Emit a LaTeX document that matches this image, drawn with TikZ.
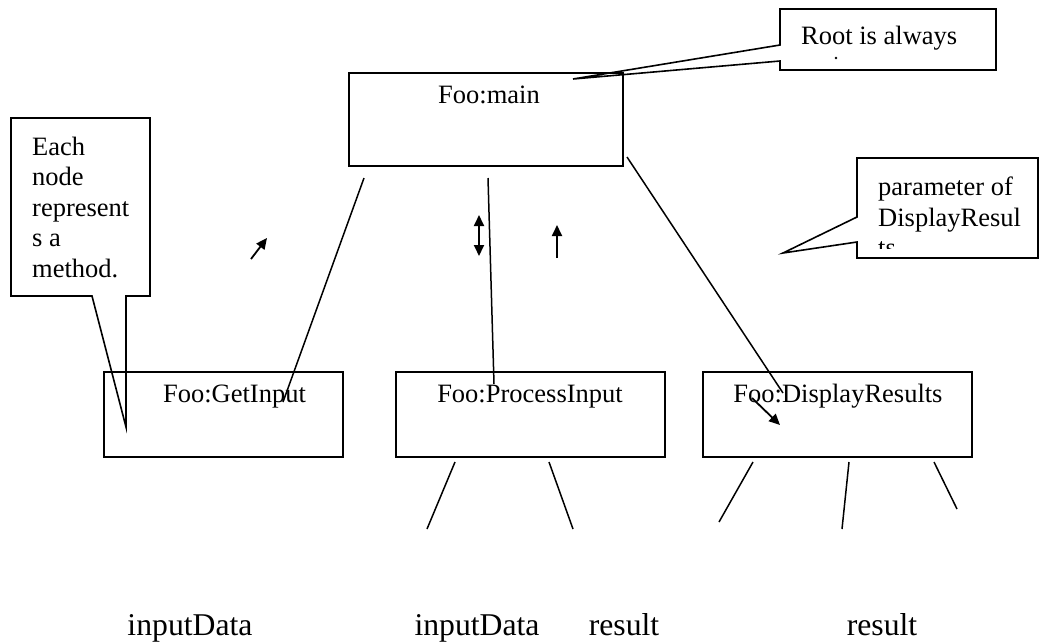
\documentclass[tikz,border=0pt]{standalone}
\usepackage{fontspec}
\setmainfont{Liberation Serif}
\usetikzlibrary{arrows.meta}
\begin{document}
\begin{tikzpicture}[x=1pt,y=-1pt,
  boxst/.style={draw,line width=1.6pt,rectangle,inner sep=0pt},
  txt/.style={inner sep=0pt,anchor=base,font=\fontsize{26.5}{30.5}\selectfont},
  ltxt/.style={inner sep=0pt,anchor=base west,font=\fontsize{26.5}{30.5}\selectfont},
  big/.style={inner sep=0pt,anchor=base,font=\fontsize{31.7}{36}\selectfont},
  ln/.style={line width=1.5pt},
  arr/.style={line width=1.8pt,-{Triangle[length=11pt,width=10pt]}},
  darr/.style={line width=1.8pt,{Triangle[length=11pt,width=10pt]}-{Triangle[length=11pt,width=10pt]}},
  callout/.style={draw,line width=1.6pt,line join=miter}]
\useasboundingbox (0,0) rectangle (1041,641);

% boxes
\node[boxst,minimum width=274pt,minimum height=93pt] (main) at (486,119.5) {};
\node[boxst,minimum width=239pt,minimum height=85pt] (gi) at (223.5,414.5) {};
\node[boxst,minimum width=269pt,minimum height=85pt] (pi) at (530.5,414.5) {};
\node[boxst,minimum width=269pt,minimum height=85pt] (dr) at (837.5,414.5) {};

\node[txt] (maintxt) at (489,103) {Foo:main};
\node[txt] (gitxt) at (234.5,402) {Foo:GetInput};
\node[txt] (pitxt) at (530,402) {Foo:ProcessInput};
\node[txt] (drtxt) at (838,402) {Foo:DisplayResults};

% connectors main -> children
\coordinate (m1) at (364,178); \coordinate (g1) at (283,402);
\coordinate (m2) at (488,178); \coordinate (p1) at (494,384);
\coordinate (m3) at (627,157); \coordinate (d1) at (783,393);
\draw[ln] (m1) -- (g1);
\draw[ln] (m2) -- (p1);
\draw[ln] (m3) -- (d1);

% small arrows
\coordinate (a1s) at (251,259); \coordinate (a1e) at (267,238);
\draw[arr] (a1s) -- (a1e);
\coordinate (a2s) at (479,256); \coordinate (a2e) at (479,215);
\draw[darr] (a2s) -- (a2e);
\coordinate (a3s) at (557,258); \coordinate (a3e) at (557,225);
\draw[arr] (a3s) -- (a3e);
\coordinate (a4s) at (752,398); \coordinate (a4e) at (780,425);
\draw[arr] (a4s) -- (a4e);

% stubs below boxes
\coordinate (s1a) at (455,462); \coordinate (s1b) at (427,529);
\coordinate (s2a) at (549,462); \coordinate (s2b) at (573,529);
\coordinate (s3a) at (753,462); \coordinate (s3b) at (719,522);
\coordinate (s4a) at (849,462); \coordinate (s4b) at (842,529);
\coordinate (s5a) at (934,462); \coordinate (s5b) at (957,509);
\draw[ln] (s1a) -- (s1b);
\draw[ln] (s2a) -- (s2b);
\draw[ln] (s3a) -- (s3b);
\draw[ln] (s4a) -- (s4b);
\draw[ln] (s5a) -- (s5b);

% bottom labels
\node[big] (l1) at (190,635) {inputData};
\node[big] (l2) at (477,635) {inputData};
\node[big] (l3) at (624,635) {result};
\node[big] (l4) at (882,635) {result};

% callout: Root is always
\draw[callout] (780,9) -- (996,9) -- (996,70) -- (780,70) -- (780,61) -- (573,79) -- (780,45) -- cycle;
\node[ltxt] (roottxt) at (801,44) {Root is always};
\fill (836,58) circle (1.4pt);

% callout: Each node represents a method.
\draw[callout] (11,118) -- (150,118) -- (150,296) -- (126,296) -- (126,427) -- (92,296) -- (11,296) -- cycle;
\node[ltxt] (e1) at (32,155) {Each};
\node[ltxt] (e2) at (32,185.5) {node};
\node[ltxt] (e3) at (32,216) {represent};
\node[ltxt] (e4) at (32,246.5) {s a};
\node[ltxt] (e5) at (32,277) {method.};

% callout: parameter of DisplayResults
\draw[callout] (857,158) -- (1038,158) -- (1038,258) -- (857,258) -- (857,242) -- (783,253) -- (857,217) -- cycle;
\node[ltxt] (p1t) at (878,195) {parameter of};
\node[ltxt] (p2t) at (878,226) {DisplayResul};
\begin{scope}
\clip (857,158) rectangle (1038,248);
\node[ltxt] (p3t) at (878,256.5) {ts};
\end{scope}
\end{tikzpicture}
\end{document}
